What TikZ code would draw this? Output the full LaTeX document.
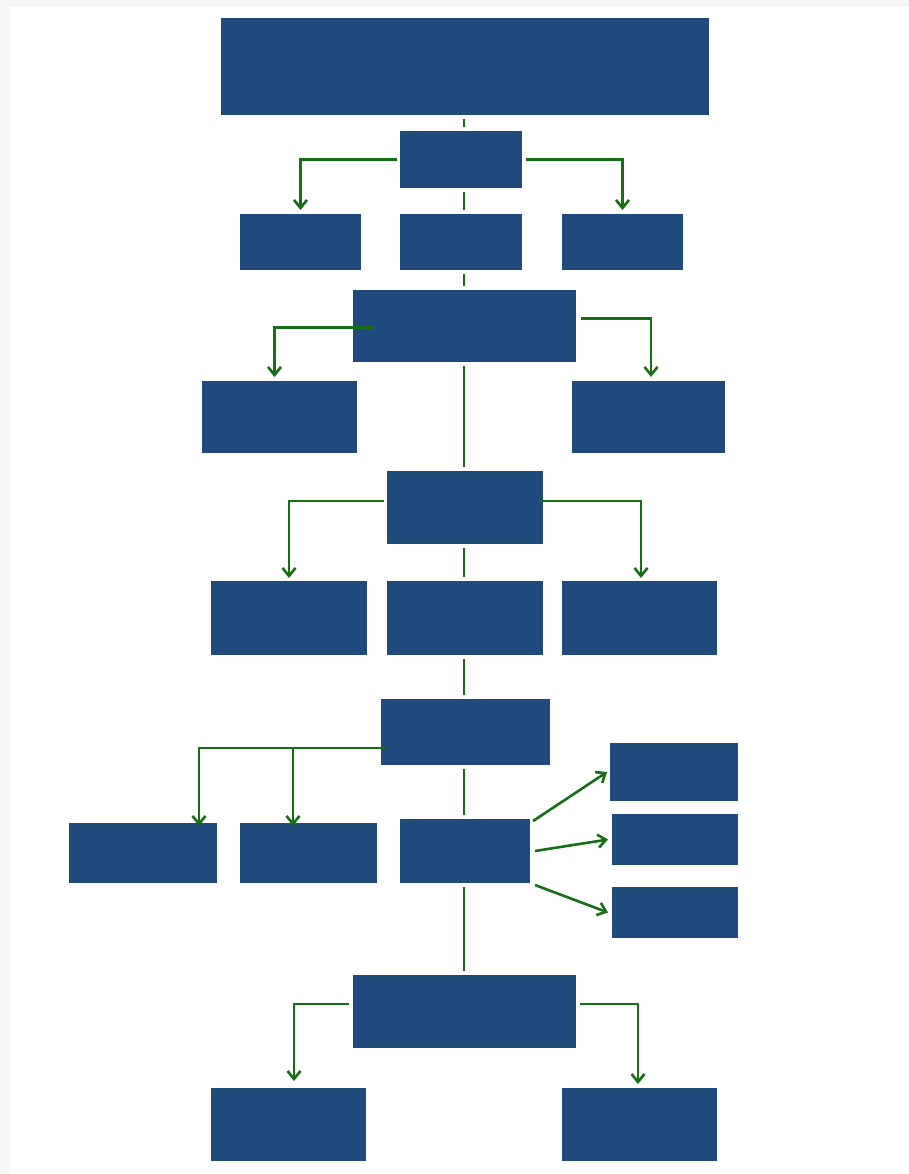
\documentclass[tikz,border=0pt]{standalone}
\usetikzlibrary{arrows.meta}
\definecolor{boxblue}{RGB}{33,74,124}
\definecolor{lgreen}{RGB}{22,110,22}
\tikzset{
  box/.style={draw=none, fill=boxblue, inner sep=0pt, outer sep=0pt, rectangle},
  link/.style={draw=lgreen, line width=2.6pt, shorten <=4pt, shorten >=4pt},
  arr/.style={draw=lgreen, line width=2.6pt, -{Straight Barb[length=8pt,width=13pt]}},
}
\newcommand{\bx}[5]{\node[box, minimum width={(#4-#2)*1pt}, minimum height={(#5-#3)*1pt}] (#1) at ({(#2+#4)/2},{(#3+#5)/2}) {};}
\begin{document}
\begin{tikzpicture}[x=1pt,y=-1pt]
\useasboundingbox (0,0) rectangle (909,1174);
\fill[gray!7] (0,0) rectangle (909,1174);
\fill[white] (10,7) rectangle (909,1174);
% boxes
\bx{top}{221}{18}{709}{115}
\bx{b2}{400}{131}{522}{188}
\bx{r3l}{240}{214}{361}{270}
\bx{r3m}{400}{214}{522}{270}
\bx{r3r}{562}{214}{683}{270}
\bx{b4}{353}{290}{576}{362}
\bx{l5}{202}{381}{357}{453}
\bx{r5}{572}{381}{725}{453}
\bx{b6}{387}{471}{543}{544}
\bx{r7l}{211}{581}{367}{655}
\bx{r7m}{387}{581}{543}{655}
\bx{r7r}{562}{581}{717}{655}
\bx{b8}{381}{699}{550}{765}
\bx{r9a}{69}{823}{217}{883}
\bx{r9b}{240}{823}{377}{883}
\bx{r9c}{400}{819}{530}{883}
\bx{r10a}{610}{743}{738}{801}
\bx{r10b}{612}{814}{738}{865}
\bx{r10c}{612}{887}{738}{938}
\bx{b11}{353}{975}{576}{1048}
\bx{r12l}{211}{1088}{366}{1161}
\bx{r12r}{562}{1088}{717}{1161}
% spine column
\coordinate (col) at (464,0);
% vertical plain links
\draw[link] (col |- top.south) -- (col |- b2.north);
\draw[link] (col |- b2.south) -- (col |- r3m.north);
\draw[link] (col |- r3m.south) -- (col |- b4.north);
\draw[link] (col |- b4.south) -- (col |- b6.north);
\draw[link] (col |- b6.south) -- (col |- r7m.north);
\draw[link] (col |- r7m.south) -- (col |- b8.north);
\draw[link] (col |- b8.south) -- (col |- r9c.north);
\draw[link] (col |- r9c.south) -- (col |- b11.north);
% b2 branches
\draw[arr] ([xshift=-3pt]b2.west) -| ([yshift=4pt]r3l.north);
\draw[arr] ([xshift=4pt]b2.east) -| ([yshift=4pt]r3r.north);
% b4 branches
\draw[arr] ([xshift=21pt,yshift=-1.5pt]b4.west) -| ([xshift=-5pt,yshift=4pt]l5.north);
\draw[arr] ([xshift=5pt,yshift=7.5pt]b4.east) -| ([xshift=2.5pt,yshift=4pt]r5.north);
% b6 branches
\draw[arr] ([xshift=-3pt,yshift=6.5pt]b6.west) -| ([yshift=3pt]r7l.north);
\draw[arr] ([xshift=-4pt,yshift=6.5pt]b6.east) -| ([xshift=1.5pt,yshift=3pt]r7r.north);
% b8 branches
\coordinate (j8) at ([xshift=4pt,yshift=-16pt]b8.west);
\coordinate (t9a) at ([xshift=56pt,yshift=-3pt]r9a.north);
\coordinate (t9b) at ([xshift=-15.5pt,yshift=-3pt]r9b.north);
\draw[arr] (j8) -| (t9a);
\draw[arr] (t9b |- j8) -- (t9b);
% r9c fan
\draw[arr] ([xshift=3pt,yshift=-2pt]r9c.north east) -- ([xshift=-3pt]r10a.west);
\draw[arr] ([xshift=5pt]r9c.east) -- ([xshift=-4pt]r10b.west);
\draw[arr] ([xshift=5pt,yshift=-2pt]r9c.south east) -- ([xshift=-4pt]r10c.west);
% b11 branches
\draw[arr] ([xshift=-4pt,yshift=7.5pt]b11.west) -| ([xshift=5.5pt,yshift=7pt]r12l.north);
\draw[arr] ([xshift=4pt,yshift=7.5pt]b11.east) -| ([xshift=-1.5pt,yshift=4pt]r12r.north);
\end{tikzpicture}
\end{document}
